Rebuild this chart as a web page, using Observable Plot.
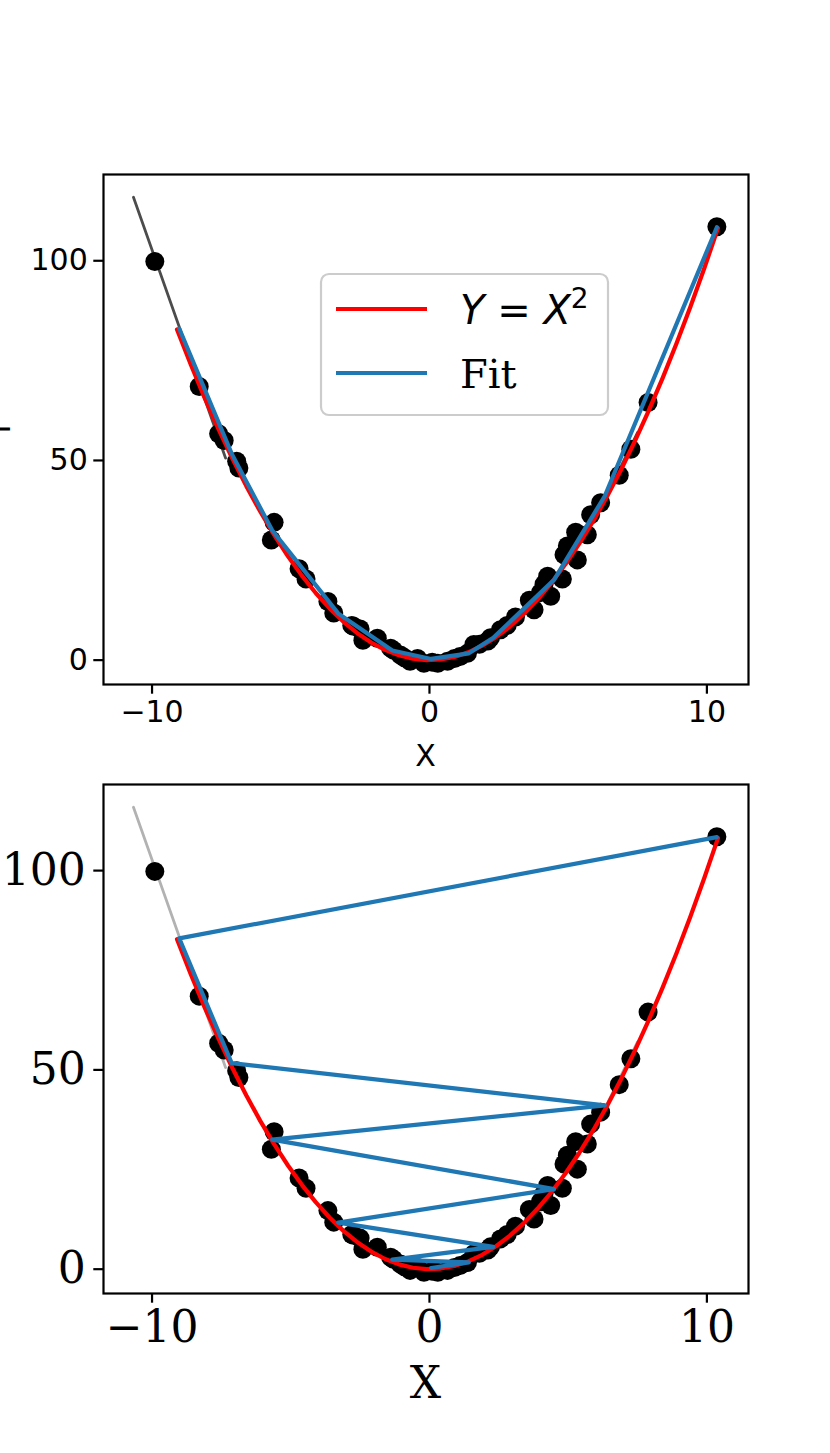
<!DOCTYPE html>
<html><head><meta charset="utf-8">
<script src="https://cdn.jsdelivr.net/npm/d3@7"></script>
<script src="https://cdn.jsdelivr.net/npm/@observablehq/plot@0.6"></script>
<style>
body{margin:0;background:#fff}
#c{position:relative;width:830px;height:1453px;overflow:hidden;background:#fff}
#c svg{position:absolute;left:0;overflow:visible}
</style>
</head><body><div id="c"></div>
<script>
// ---- data ----
const dataX = [-9.9,-8.3,-7.6,-7.4,-6.95,-6.87,-5.6,-5.7,-4.7,-4.45,-3.66,-3.45,-2.8,-2.74,-2.5,-2.4,-1.88,-1.4,-1.3,-1.05,-0.9,-0.7,-0.43,-0.2,0.1,0.3,0.65,0.9,1.1,1.37,1.6,1.8,2.1,2.2,2.56,2.8,3.1,3.6,3.77,4.0,4.13,4.26,4.37,4.79,4.85,4.97,5.27,5.33,5.69,5.81,6.17,6.84,7.26,7.88,10.36];
const dataY = [99.8,68.5,56.7,55.0,49.8,48.1,34.5,30.1,22.9,20.3,14.7,11.8,8.7,8.5,7.8,5.0,5.5,3.0,2.5,1.3,0.6,-0.3,0.4,-0.8,-0.5,-0.8,-0.3,0.4,0.9,1.7,3.9,4.0,4.8,5.6,7.6,8.7,10.8,15.0,12.6,16.9,19.0,21.0,16.0,20.3,26.4,28.6,32.0,25.1,31.4,36.4,39.4,46.3,52.8,64.5,108.5];

const curveX = [-9.1,-8.6,-8.1,-7.6,-7.1,-6.6,-6.1,-5.6,-5.1,-4.6,-4.1,-3.6,-3.1,-2.6,-2.1,-1.6,-1.1,-0.6,-0.1,0.4,0.9,1.4,1.9,2.4,2.9,3.4,3.9,4.4,4.9,5.4,5.9,6.4,6.9,7.4,7.9,8.4,8.9,9.4,9.9,10.4];
const curveY = [82.81,73.96,65.61,57.76,50.41,43.56,37.21,31.36,26.01,21.16,16.81,12.96,9.61,6.76,4.41,2.56,1.21,0.36,0.01,0.16,0.81,1.96,3.61,5.76,8.41,11.56,15.21,19.36,24.01,29.16,34.81,40.96,47.61,54.76,62.41,70.56,79.21,88.36,98.01,108.16];

// fit points in the order they were produced (bottom panel draws this order)
const fitX = [10.36,-9.02,-7.13,6.32,-5.67,4.49,-3.29,2.3,-1.34,1.42,0.06];
const fitY = [108.4,83.0,51.7,41.1,32.5,20.1,11.7,5.6,2.4,1.7,0.3];

const grayX = [-10.67,-7.35, 6.3,7.5];
const grayY = [115.9,50.6, 40.0,57.0];
const graySeg = ["a","a","b","b"];

const xTicks = [-10,0,10];
const yTicks = [0,50,100];
const legendLabels = ["Y = X2", "Fit"];
const xLabel = "X", yLabel = "Y";

// ---- tables ----
const pts = dataX.map((x,i)=>({x, y:dataY[i]}));
const curve = curveX.map((x,i)=>({x, y:curveY[i]}));
const fit = fitX.map((x,i)=>({x, y:fitY[i]}));
const fitSorted = d3.sort(fit, d=>d.x);
const gray = grayX.map((x,i)=>({x, y:grayY[i], s:graySeg[i]}));

const fmt = d => d < 0 ? "\u2212" + (-d) : String(d);
const RED = "#ff0000", BLUE = "#1f77b4";
const LW = 4.2;

function panel({height, mt, mb, font, fsize, grayOpacity, fitData, tickPad}) {
  return Plot.plot({
    width: 830, height,
    marginTop: mt, marginBottom: mb, marginLeft: 103, marginRight: 82,
    x: {domain: [-11.75, 11.5]},
    y: {domain: [-6.1, 121.6]},
    style: {fontFamily: font, fontSize: fsize + "px", color: "black", background: "transparent"},
    marks: [
      Plot.axisX({ticks: xTicks, tickFormat: fmt, tickSize: 9.7, tickPadding: tickPad, strokeWidth: 2.2, label: null, fontSize: fsize}),
      Plot.axisY({ticks: yTicks, tickFormat: fmt, tickSize: 9.7, tickPadding: tickPad, strokeWidth: 2.2, label: null, fontSize: fsize}),
      Plot.dot(pts, {x: "x", y: "y", r: 9.5, fill: "black", stroke: "none"}),
      Plot.line(gray, {x: "x", y: "y", z: "s", stroke: "black", strokeOpacity: grayOpacity, strokeWidth: 2.8}),
      Plot.line(curve, {x: "x", y: "y", stroke: RED, strokeWidth: LW, curve: "linear"}),
      Plot.line(fitData, {x: "x", y: "y", stroke: BLUE, strokeWidth: LW}),
      Plot.frame({stroke: "black", strokeWidth: 2.2})
    ]
  });
}

const container = document.getElementById("c");

// top panel
const topSvg = panel({height: 780, mt: 174, mb: 96, font: "DejaVu Sans", fsize: 30, grayOpacity: 0.7, fitData: fitSorted, tickPad: 6});
topSvg.style.top = "0px";
container.appendChild(topSvg);
const ts = d3.select(topSvg);
ts.append("text").attr("x", 425.5).attr("y", 766).attr("text-anchor", "middle")
  .attr("font-family", "DejaVu Sans").attr("font-size", 30).attr("fill", "black").text(xLabel);
ts.append("text").attr("transform", "translate(10,429) rotate(-90)").attr("text-anchor", "middle")
  .attr("font-family", "DejaVu Sans").attr("font-size", 30).attr("fill", "black").text(yLabel);

// legend
const lg = ts.append("g").attr("text-anchor", "start");
lg.append("rect").attr("x", 321).attr("y", 274).attr("width", 287).attr("height", 141).attr("rx", 8)
  .attr("fill", "white").attr("fill-opacity", 0.8).attr("stroke", "#cccccc").attr("stroke-width", 2.2);
lg.append("line").attr("x1", 336).attr("x2", 427).attr("y1", 309).attr("y2", 309).attr("stroke", RED).attr("stroke-width", LW);
lg.append("line").attr("x1", 336).attr("x2", 427).attr("y1", 373).attr("y2", 373).attr("stroke", BLUE).attr("stroke-width", LW);
const t1 = lg.append("text").attr("x", 460).attr("y", 324).attr("text-anchor", "start")
  .attr("font-family", "DejaVu Sans").attr("font-size", 40).attr("fill", "black");
t1.append("tspan").attr("font-style", "italic").text(legendLabels[0].charAt(0));
t1.append("tspan").text(" = ");
t1.append("tspan").attr("font-style", "italic").text(legendLabels[0].charAt(4));
t1.append("tspan").attr("font-size", 28).attr("dy", -16).text(legendLabels[0].charAt(5));
lg.append("text").attr("x", 460).attr("y", 388).attr("text-anchor", "start")
  .attr("font-family", "DejaVu Serif").attr("font-size", 40).attr("fill", "black").text(legendLabels[1]);

// bottom panel
const botSvg = panel({height: 673, mt: 4, mb: 160, font: "DejaVu Serif", fsize: 44, grayOpacity: 0.3, fitData: fit, tickPad: 8});
botSvg.style.top = "780px";
container.appendChild(botSvg);
d3.select(botSvg).append("text").attr("x", 425.5).attr("y", 618).attr("text-anchor", "middle")
  .attr("font-family", "DejaVu Serif").attr("font-size", 44).attr("fill", "black").text(xLabel);
</script></body></html>
